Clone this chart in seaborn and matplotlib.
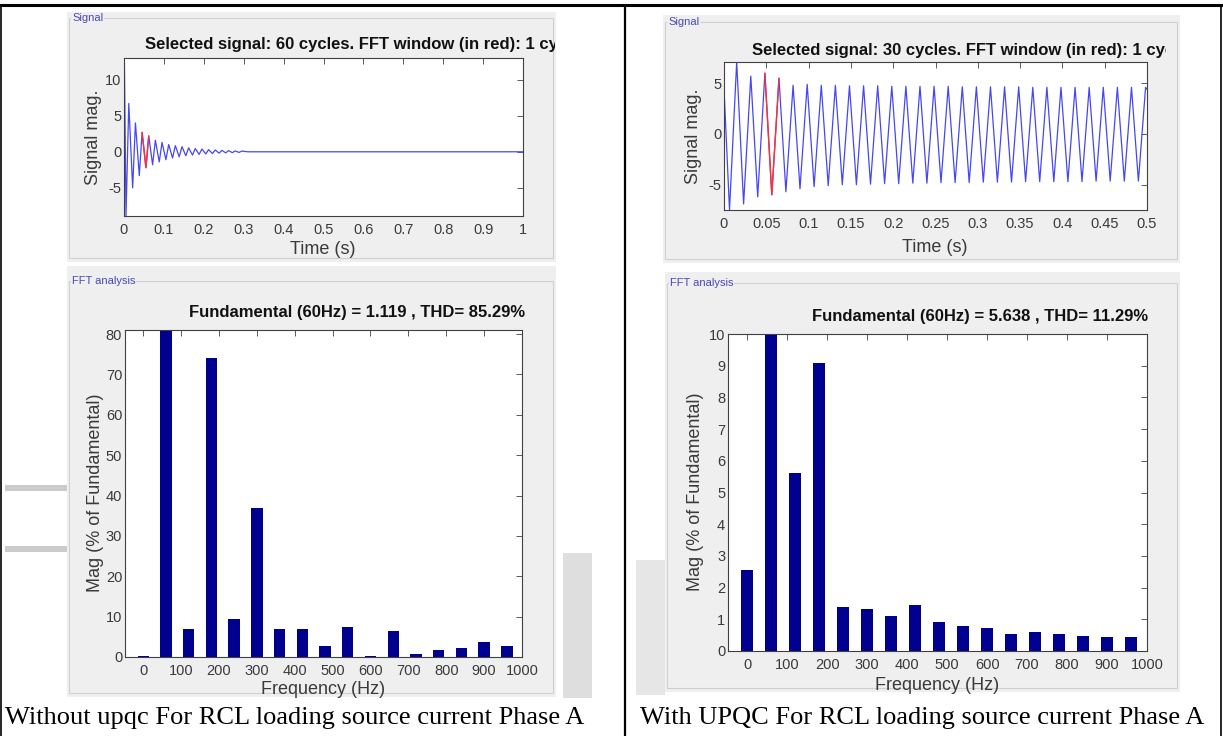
import numpy as np
import matplotlib
matplotlib.use('Agg')
import matplotlib.pyplot as plt
from matplotlib.patches import Rectangle
from matplotlib.transforms import Bbox, TransformedBbox
import seaborn as sns

W, H = 1223, 736

# FFT spectra, % of fundamental, one bar per harmonic of 60 Hz
freq_hz = list(range(0, 1000, 60))
mag_without = [0.3, 100, 6.9, 74.0, 9.4, 36.9, 6.9, 6.9, 2.7, 7.5, 0.2, 6.4, 0.8, 1.8, 2.2, 3.7, 2.7]
mag_with = [2.54, 100, 5.62, 9.1, 1.40, 1.34, 1.10, 1.44, 0.90, 0.79, 0.71, 0.55, 0.59, 0.53, 0.48, 0.43, 0.44]

# time signals, read as one trough and one peak per 60 Hz cycle
cycle = 1 / 60
sig1_head_t, sig1_head_v = [0.0, 0.001], [2.0, 12.5]
sig1_trough = [-8.9, -5.0, -3.3, -2.2, -1.8, -1.4, -1.1, -0.85, -0.7, -0.55,
               -0.45, -0.36, -0.3, -0.24, -0.19, -0.15, -0.12, -0.09]
sig1_peak = [6.7, 4.0, 2.7, 2.2, 1.6, 1.3, 1.0, 0.85, 0.7, 0.55,
             0.45, 0.38, 0.3, 0.25, 0.2, 0.16, 0.12, 0.1]
sig1_tail_t, sig1_tail_v = [0.31, 1.0], [0.0, 0.0]

sig2_head_t, sig2_head_v = [0.0], [4.5]
sig2_trough = [-7.5, -6.9, -6.2, -6.0, -5.7, -5.4, -5.2, -5.1, -5.0, -5.0,
               -4.95, -4.9, -4.9, -4.85, -4.85, -4.8, -4.8, -4.8, -4.75, -4.75,
               -4.75, -4.7, -4.7, -4.7, -4.7, -4.7, -4.65, -4.65, -4.65, -4.65]
sig2_peak = [7.1, 5.7, 6.0, 5.5, 4.8, 4.9, 4.8, 4.8, 4.75, 4.75,
             4.75, 4.7, 4.7, 4.7, 4.7, 4.7, 4.65, 4.65, 4.65, 4.65,
             4.65, 4.6, 4.6, 4.6, 4.6, 4.6, 4.6, 4.6, 4.6, 4.6]
sig2_tail_t, sig2_tail_v = [0.5], [4.4]

sns.set_style('white')
plt.rcParams['font.family'] = ['Liberation Sans', 'DejaVu Sans']

fig = plt.figure(figsize=(W / 100, H / 100), dpi=100)
bg = fig.add_axes([0, 0, 1, 1], zorder=-1)
bg.set_xlim(0, W); bg.set_ylim(H, 0); bg.axis('off')

PANEL = '#efefef'
TXT = '#3a3a3a'


def build_wave(head_t, head_v, trough, peak, t_trough, t_peak, tail_t, tail_v):
    t, v = list(head_t), list(head_v)
    for k, (lo, hi) in enumerate(zip(trough, peak)):
        t += [t_trough + k * cycle, t_peak + k * cycle]
        v += [lo, hi]
    return np.array(t + tail_t), np.array(v + tail_v)


def px_axes(box):
    x0, y0, x1, y1 = box
    return fig.add_axes([x0 / W, 1 - y1 / H, (x1 - x0) / W, (y1 - y0) / H], zorder=2)


def matlab_style(ax):
    ax.set_facecolor('white')
    for s in ax.spines.values():
        s.set_color('#404040'); s.set_linewidth(0.8); s.set_visible(True)
    ax.tick_params(direction='in', top=True, right=True, length=4, width=0.6,
                   color='#404040', labelcolor=TXT, labelsize=10.5)
    ax.tick_params(axis='x', pad=5)
    ax.tick_params(axis='y', pad=2)


def labels(ax, box, xlabel, xpos, ylabel, ypos):
    x0, y0, x1, y1 = box
    ax.set_xlabel(xlabel, fontsize=13, color=TXT, va='center')
    ax.xaxis.set_label_coords((xpos[0] - x0) / (x1 - x0), (y1 - xpos[1]) / (y1 - y0))
    ax.set_ylabel(ylabel, fontsize=13, color=TXT, va='center')
    ax.yaxis.set_label_coords((ypos[0] - x0) / (x1 - x0), (y1 - ypos[1]) / (y1 - y0))


def panel(x0, y0, x1, y1, label, ly):
    bg.add_patch(Rectangle((x0, y0), x1 - x0, y1 - y0, fc=PANEL, ec='none'))
    bg.add_patch(Rectangle((x0 + 2, ly), x1 - x0 - 5, y1 - ly - 4, fc='none', ec='#d0d0d0', lw=0.8))
    bg.text(x0 + 5, ly, label, fontsize=8, color='#4848b8', va='center', ha='left',
            bbox=dict(fc=PANEL, ec='none', pad=0.6))


def clipped_title(x, y, text, clip_x1):
    t = bg.text(x, y, text, fontsize=12, fontweight='bold', color='#111111', ha='left', va='center')
    box = Bbox.from_extents(0, 0, clip_x1 / W, 1)
    t.set_clip_box(TransformedBbox(box, fig.transFigure))
    t.set_clip_on(True)


def draw_signal(box, t, v, red_window, xmax, xticks, xlabels, ylim, yticks):
    ax = px_axes(box)
    sns.lineplot(x=t, y=v, ax=ax, color='#4646f4', lw=0.9, sort=False, estimator=None)
    m = (t >= red_window[0]) & (t <= red_window[1])
    sns.lineplot(x=t[m], y=v[m], ax=ax, color='#ff3030', lw=1.0, sort=False, estimator=None)
    ax.set_xlim(0, xmax); ax.set_ylim(*ylim)
    ax.set_xticks(xticks, xlabels)
    ax.set_yticks(yticks, [f'{y:g}' for y in yticks])
    matlab_style(ax)
    return ax


def draw_fft(box, mags, ymax, yticks):
    ax = px_axes(box)
    sns.barplot(x=freq_hz, y=mags, ax=ax, native_scale=True, width=0.5,
                color='#00008f', saturation=1, linewidth=0)
    ax.set_xlim(-48, 1000); ax.set_ylim(0, ymax)
    xt = list(range(0, 1001, 100))
    ax.set_xticks(xt, [str(x) for x in xt])
    ax.set_yticks(yticks, [str(y) for y in yticks])
    matlab_style(ax)
    return ax


# watermark smudges of the scanned page
for r in [(5, 485, 63, 6), (5, 546, 63, 6)]:
    bg.add_patch(Rectangle(r[:2], r[2], r[3], fc='#cbcbcb', ec='none'))
bg.add_patch(Rectangle((563, 553), 29, 145, fc='#dedede', ec='none'))
bg.add_patch(Rectangle((636, 560), 29, 135, fc='#e6e6e6', ec='none'))

# panels
panel(67, 12, 556, 262, 'Signal', 18)
panel(67, 266, 556, 697, 'FFT analysis', 281)
panel(663, 15, 1180, 263, 'Signal', 22)
panel(665, 272, 1180, 692, 'FFT analysis', 283)

# left column: without UPQC
S1 = (124, 58, 523, 216)
t1, v1 = build_wave(sig1_head_t, sig1_head_v, sig1_trough, sig1_peak, 0.005, 0.012, sig1_tail_t, sig1_tail_v)
xt1 = [round(0.1 * i, 1) for i in range(11)]
ax = draw_signal(S1, t1, v1, (0.045, 0.063), 1, xt1, [f'{x:g}' for x in xt1], (-8.9, 13), [-5, 0, 5, 10])
labels(ax, S1, 'Time (s)', (323, 249), 'Signal mag.', (93, 137))
clipped_title(145, 44, 'Selected signal: 60 cycles. FFT window (in red): 1 cycle', 555)

F1 = (125, 330, 522, 657)
ax = draw_fft(F1, mag_without, 81, list(range(0, 81, 10)))
labels(ax, F1, 'Frequency (Hz)', (323, 689), 'Mag (% of Fundamental)', (96, 493))
bg.text(525, 312, 'Fundamental (60Hz) = 1.119 , THD= 85.29%', fontsize=12, fontweight='bold',
        color='#111111', ha='right', va='center')

# right column: with UPQC
S2 = (724, 62, 1147, 210)
t2, v2 = build_wave(sig2_head_t, sig2_head_v, sig2_trough, sig2_peak, 0.0065, 0.015, sig2_tail_t, sig2_tail_v)
xt2 = [round(0.05 * i, 2) for i in range(11)]
ax = draw_signal(S2, t2, v2, (0.048, 0.066), 0.5, xt2, [f'{x:g}' for x in xt2], (-7.5, 7.1), [-5, 0, 5])
labels(ax, S2, 'Time (s)', (935, 248), 'Signal mag.', (694, 136))
clipped_title(752, 50, 'Selected signal: 30 cycles. FFT window (in red): 1 cycle', 1166)

F2 = (728, 334, 1147, 651)
ax = draw_fft(F2, mag_with, 10, list(range(0, 11)))
labels(ax, F2, 'Frequency (Hz)', (937, 685), 'Mag (% of Fundamental)', (696, 492))
bg.text(1148, 316, 'Fundamental (60Hz) = 5.638 , THD= 11.29%', fontsize=12, fontweight='bold',
        color='#111111', ha='right', va='center')

# table rules and captions
bg.plot([0, W], [4.5, 4.5], color='black', lw=2.2)
bg.plot([625, 625], [4.5, H], color='black', lw=1.6)
bg.plot([1, 1], [4.5, H], color='black', lw=1.2)
bg.plot([1221, 1221], [4.5, H], color='black', lw=1.2)
bg.text(5, 718, 'Without upqc For RCL loading source current Phase A', family='Liberation Serif',
        fontsize=19, color='black', ha='left', va='center')
bg.text(640, 718, 'With UPQC For RCL loading source current Phase A', family='Liberation Serif',
        fontsize=19, color='black', ha='left', va='center')

fig.savefig('out.png', dpi=100)
